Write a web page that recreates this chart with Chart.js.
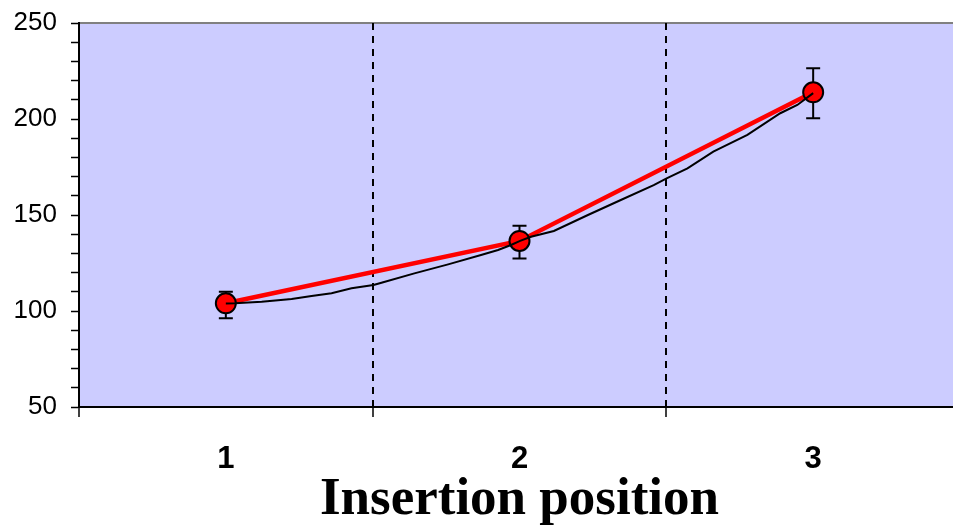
<!DOCTYPE html>
<html>
<head>
<meta charset="utf-8">
<script src="https://cdn.jsdelivr.net/npm/chart.js@4/dist/chart.umd.min.js"></script>
<style>
  html, body { margin: 0; padding: 0; background: #ffffff; overflow: hidden; width: 953px; height: 528px; }
  #c { display: block; }
</style>
</head>
<body>
<canvas id="c" width="960" height="528"></canvas>
<script>
// ---- data ----
const categories = ['1', '2', '3'];
const positions = [1, 2, 3];
const meanValues = [104.0, 136.5, 213.9];
const errLow = [96.2, 127.4, 200.4];
const errHigh = [110.0, 144.4, 226.4];
// fitted curve
const fitX = [1.000, 1.031, 1.122, 1.224, 1.292, 1.360, 1.428, 1.503, 1.530, 1.642, 1.757, 1.869, 1.927, 1.971, 2.002, 2.039, 2.117, 2.233, 2.345, 2.457, 2.501, 2.572, 2.660, 2.776, 2.888, 2.946, 3.000];
const fitY = [103.9, 104.0, 104.8, 106.3, 107.8, 109.2, 111.8, 113.5, 114.7, 119.6, 124.3, 129.2, 131.8, 134.4, 136.5, 138.7, 141.7, 150.0, 157.8, 165.6, 169.1, 174.3, 183.0, 191.7, 203.0, 207.3, 213.5];
const yTickMin = 50, yTickMax = 250, yMinorStep = 10, yMajorStep = 50;
const xTitle = 'Insertion position';

const meanPts = positions.map((x, i) => ({x: x, y: meanValues[i]}));
const fitPts = fitX.map((x, i) => ({x: x, y: fitY[i]}));

const bgPlugin = {
  id: 'bg',
  beforeDraw(chart) {
    const {ctx, chartArea: a} = chart;
    ctx.save();
    ctx.fillStyle = '#CCCCFF';
    ctx.fillRect(a.left, a.top, a.right - a.left, a.bottom - a.top);
    ctx.strokeStyle = '#808080';
    ctx.lineWidth = 2;
    ctx.beginPath();
    ctx.moveTo(a.left, a.top);
    ctx.lineTo(a.right, a.top);
    ctx.stroke();
    ctx.restore();
  }
};

const errPlugin = {
  id: 'errbars',
  beforeDatasetsDraw(chart) {
    const {ctx, scales: {x, y}} = chart;
    ctx.save();
    ctx.strokeStyle = '#000000';
    ctx.lineWidth = 2;
    positions.forEach((p, i) => {
      const px = x.getPixelForValue(p);
      const yl = y.getPixelForValue(errLow[i]);
      const yh = y.getPixelForValue(errHigh[i]);
      ctx.beginPath();
      ctx.moveTo(px, yl); ctx.lineTo(px, yh);
      ctx.moveTo(px - 7, yl); ctx.lineTo(px + 7, yl);
      ctx.moveTo(px - 7, yh); ctx.lineTo(px + 7, yh);
      ctx.stroke();
    });
    ctx.restore();
  }
};

function zeroPad(scale) {
  scale.paddingLeft = 0; scale.paddingRight = 0;
  scale.paddingTop = 0; scale.paddingBottom = 0;
}

new Chart(document.getElementById('c'), {
  type: 'scatter',
  data: {
    datasets: [
      {
        label: 'fit',
        data: fitPts,
        showLine: true,
        borderColor: '#000000',
        borderWidth: 2,
        pointRadius: 0,
        fill: false,
        tension: 0,
        order: 1
      },
      {
        label: 'mean',
        data: meanPts,
        showLine: true,
        borderColor: '#FF0000',
        borderWidth: 4.5,
        pointRadius: 10,
        pointBackgroundColor: '#FF0000',
        pointBorderColor: '#000000',
        pointBorderWidth: 2,
        fill: false,
        tension: 0,
        order: 2
      }
    ]
  },
  options: {
    responsive: false,
    animation: false,
    events: [],
    layout: { autoPadding: false, padding: { top: 23, left: 0, right: 0, bottom: 0 } },
    plugins: { legend: { display: false }, tooltip: { enabled: false }, title: { display: false } },
    scales: {
      x: {
        type: 'linear',
        position: 'bottom',
        min: 0.5,
        max: 3.5,
        afterBuildTicks(scale) {
          const t = [];
          for (let v = 0.5; v <= 3.5001; v += 0.5) t.push({value: Math.round(v * 10) / 10});
          scale.ticks = t;
        },
        afterFit(scale) { scale.height = 121; zeroPad(scale); },
        ticks: {
          autoSkip: false,
          maxRotation: 0,
          minRotation: 0,
          padding: 24,
          color: '#000000',
          font: { family: 'Liberation Sans', size: 31, weight: 'bold' },
          callback(v) {
            const i = positions.indexOf(v);
            return i >= 0 ? categories[i] : '';
          }
        },
        grid: {
          display: true,
          drawOnChartArea: true,
          drawTicks: true,
          tickLength: 10,
          lineWidth: 2,
          tickWidth: 1.5,
          color(ctx) {
            const v = ctx.tick ? ctx.tick.value : null;
            return (v === 1.5 || v === 2.5) ? '#000000' : 'rgba(0,0,0,0)';
          },
          tickColor(ctx) {
            const v = ctx.tick ? ctx.tick.value : null;
            return (v !== null && Math.abs(v % 1 - 0.5) < 1e-6) ? '#000000' : 'rgba(0,0,0,0)';
          }
        },
        border: { display: true, color: '#000000', width: 2, dash: [7, 6] },
        title: {
          display: true,
          text: xTitle,
          color: '#000000',
          font: { family: 'Liberation Serif', size: 53, weight: 'bold', lineHeight: 1.0 },
          padding: { top: 0, bottom: 1 }
        }
      },
      y: {
        type: 'linear',
        position: 'left',
        min: yTickMin,
        max: yTickMax,
        afterFit(scale) { scale.width = 79; zeroPad(scale); },
        ticks: {
          stepSize: yMinorStep,
          autoSkip: false,
          padding: 14,
          color: '#000000',
          font: { family: 'Liberation Sans', size: 26 },
          callback(v) { return (v % yMajorStep === 0) ? String(v) : ''; }
        },
        grid: {
          display: true,
          drawOnChartArea: false,
          drawTicks: true,
          tickLength: 8,
          tickWidth: 1.5,
          tickColor: '#000000',
          color: 'rgba(0,0,0,0)'
        },
        border: { display: true, color: '#000000', width: 2 }
      }
    }
  },
  plugins: [bgPlugin, errPlugin]
});
</script>
</body>
</html>
